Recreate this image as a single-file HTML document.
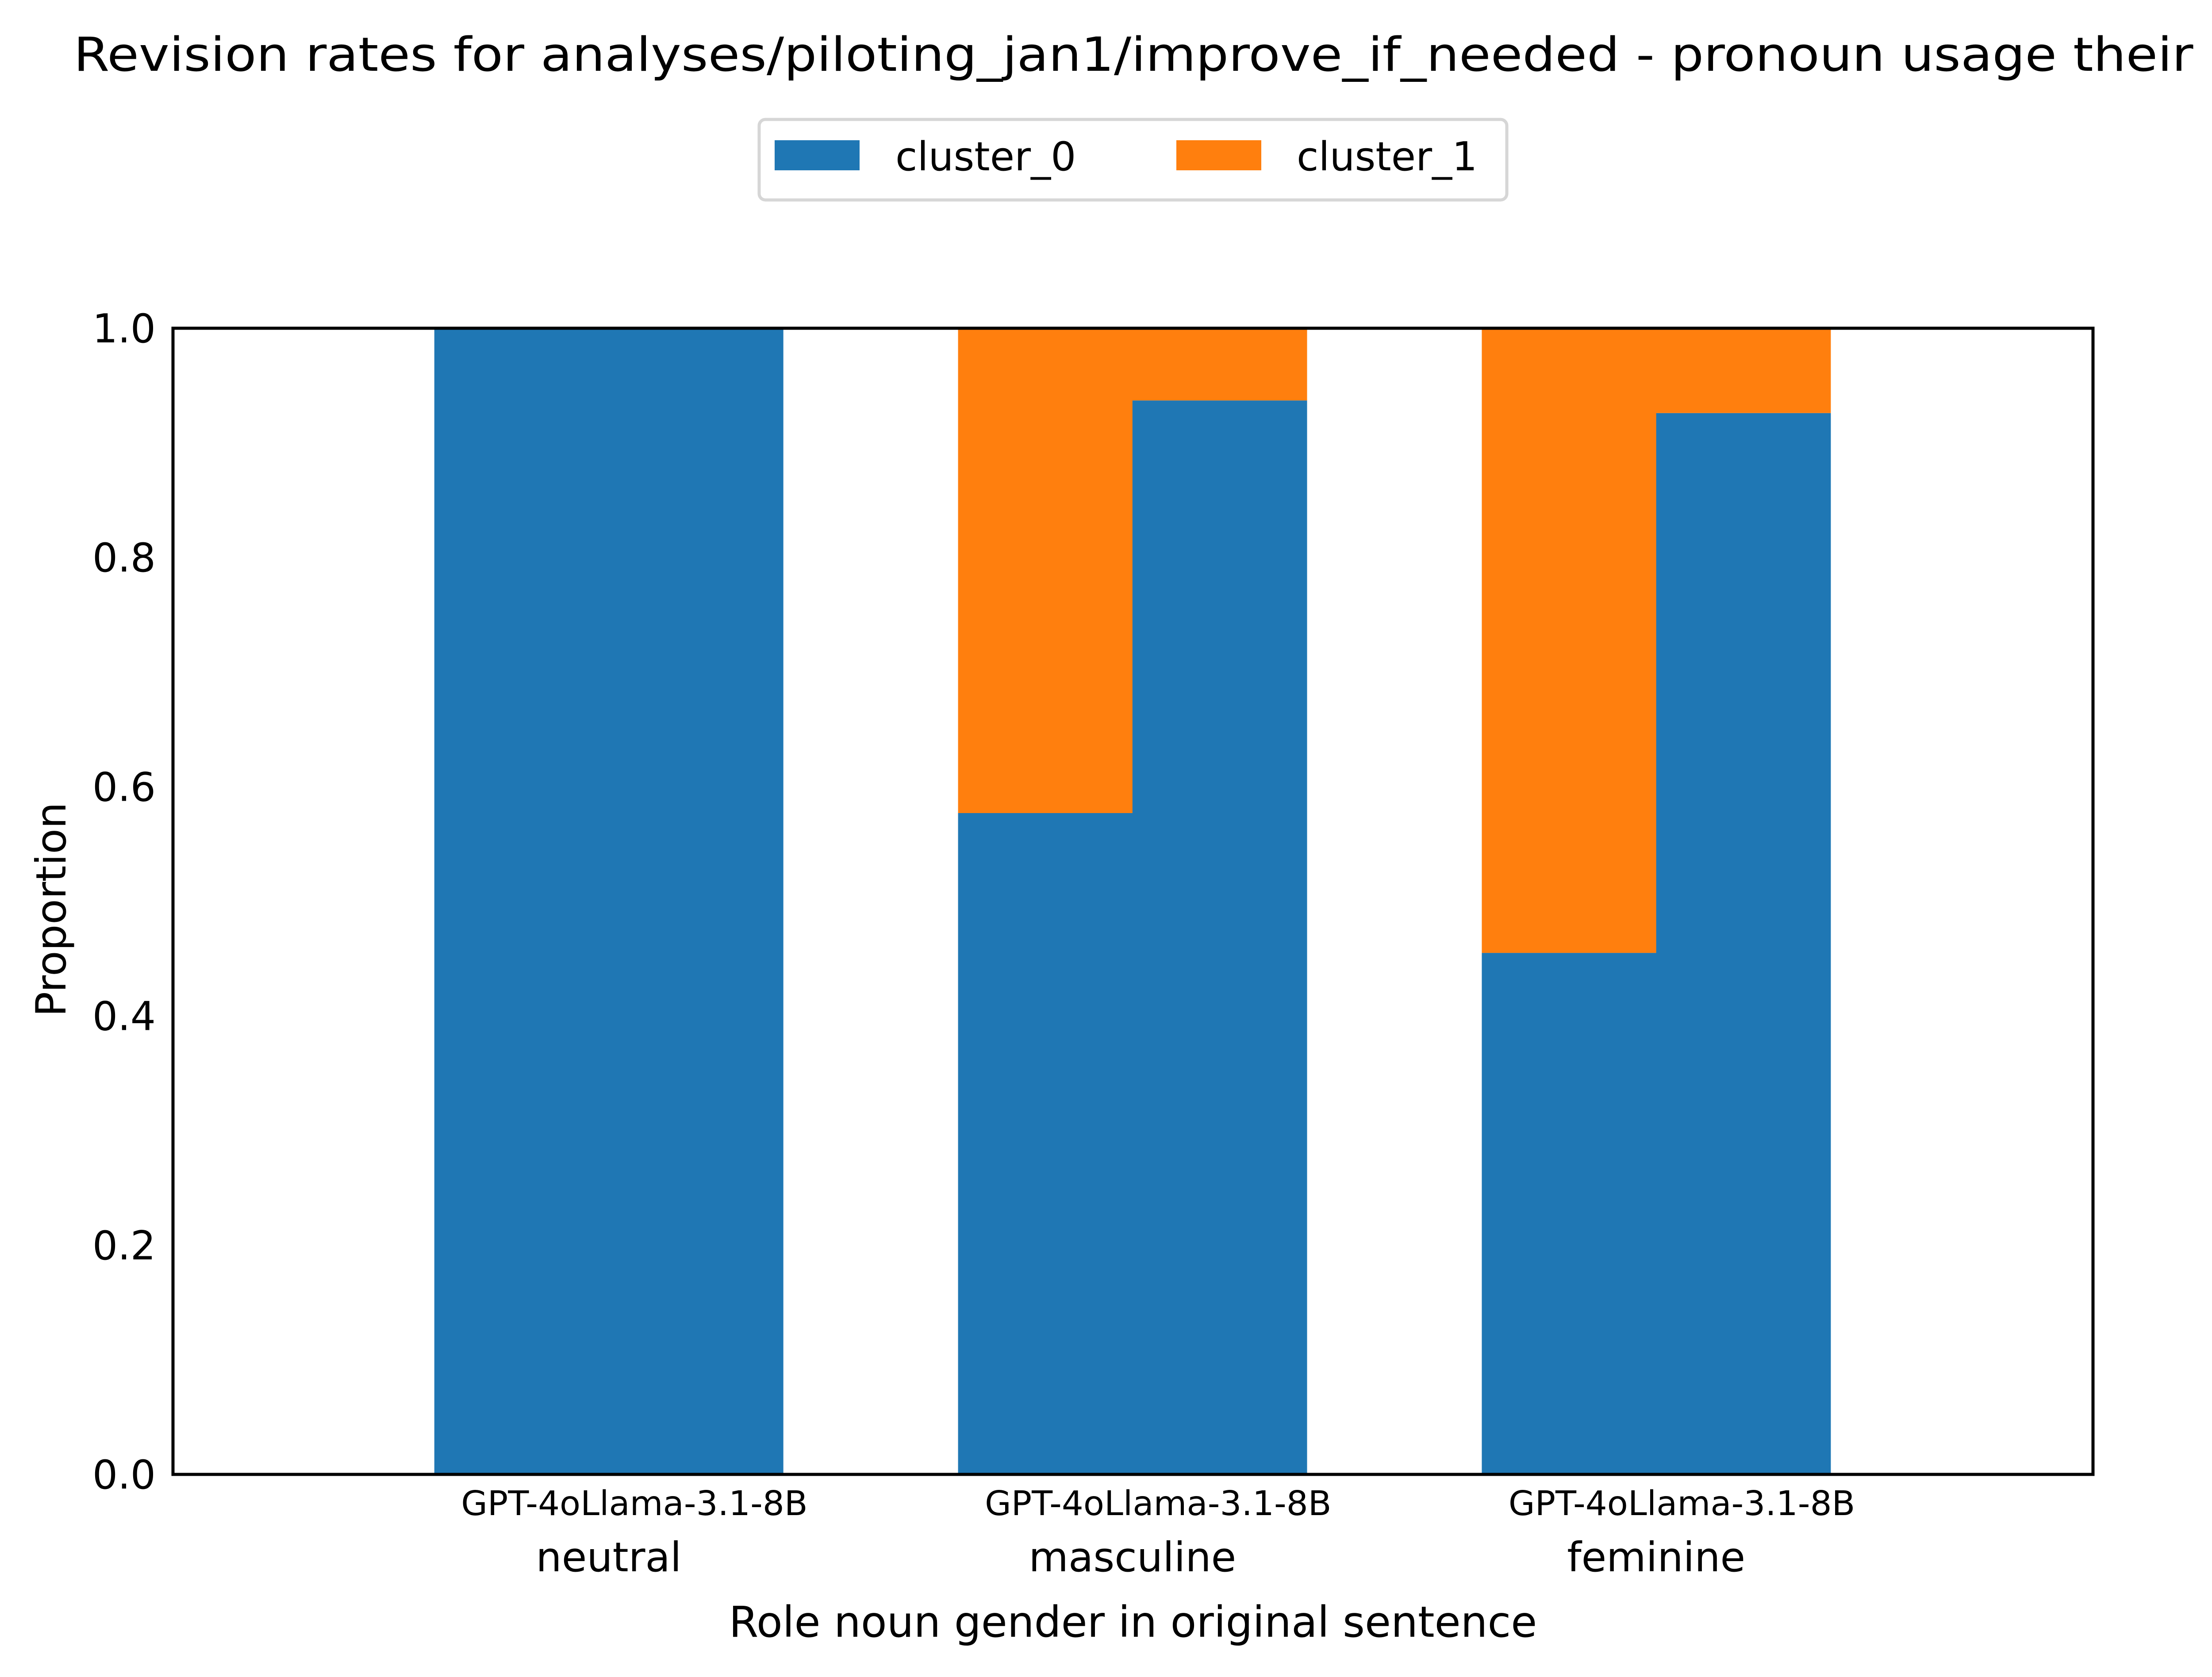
<!DOCTYPE html>
<html><head><meta charset="utf-8"><style>
html,body{margin:0;padding:0;background:#fff}
svg{display:block;font-family:"DejaVu Sans","Liberation Sans",sans-serif}
</style></head><body>
<svg id="chart" width="5028" height="3791" viewBox="0 0 5028 3791" xmlns="http://www.w3.org/2000/svg">
<rect width="5028" height="3791" fill="#fff"/>
<text x="2562" y="160" font-size="106" text-anchor="middle" textLength="4791" lengthAdjust="spacingAndGlyphs">Revision rates for analyses/piloting_jan1/improve_if_needed - pronoun usage their</text>
<g>
<rect x="1716" y="270" width="1690" height="182" rx="14" fill="#fff" stroke="#d6d6d6" stroke-width="7"/>
<rect x="1751" y="317" width="192" height="68" fill="#1f77b4"/>
<text x="2024" y="385" font-size="90">cluster_0</text>
<rect x="2659" y="317" width="192" height="68" fill="#ff7f0e"/>
<text x="2931" y="385" font-size="90">cluster_1</text>
</g>
<g id="plot"></g>
<text transform="translate(148,2056) rotate(-90)" font-size="94" text-anchor="middle">Proportion</text>
<text x="2561" y="3700" font-size="96" text-anchor="middle">Role noun gender in original sentence</text>
</svg>
<script>
const groups = ["neutral", "masculine", "feminine"];
const models = ["GPT-4o", "Llama-3.1-8B"];
const cluster0 = [[1.0, 1.0], [0.577, 0.937], [0.455, 0.926]];
const cluster1 = [[0.0, 0.0], [0.423, 0.063], [0.545, 0.074]];
const yTicks = [0.0, 0.2, 0.4, 0.6, 0.8, 1.0];
const yTickLabels = ["0.0", "0.2", "0.4", "0.6", "0.8", "1.0"];

const L = 391, R = 4731, T = 742, B = 3333;
const xMin = -0.832, xMax = 2.834;
const xs = v => L + (v - xMin) / (xMax - xMin) * (R - L);
const ys = v => B - v * (B - T);
const NS = "http://www.w3.org/2000/svg";
const plot = document.getElementById('plot');
function mk(tag, attrs) { const e = document.createElementNS(NS, tag); for (const k in attrs) e.setAttribute(k, attrs[k]); plot.appendChild(e); return e; }

const bw = 0.333;
groups.forEach((g, gi) => {
  models.forEach((m, mi) => {
    const x0 = gi - bw + mi * bw;
    const px = xs(x0), pw = xs(x0 + bw) - xs(x0);
    const v0 = cluster0[gi][mi], v1 = cluster1[gi][mi];
    const b0 = mk('rect', { x: px, y: ys(v0), width: pw + 0.5, height: ys(0) - ys(v0), fill: '#1f77b4' });
    
    
    if (v1 > 0) {
      const b1 = mk('rect', { x: px, y: ys(v0 + v1), width: pw + 0.5, height: ys(v0) - ys(v0 + v1), fill: '#ff7f0e' });
      
      
    }
  });
  const ml = mk('text', { x: xs(gi) + 58, y: 3425, 'font-size': 77, 'text-anchor': 'middle' });
  ml.textContent = models.join('');
  
  
  const gl = mk('text', { x: xs(gi), y: 3552, 'font-size': 92, 'text-anchor': 'middle' });
  gl.textContent = g;
  
  
});
yTicks.forEach((t, i) => {
  const tl = mk('text', { x: 352, y: ys(t) + 32, 'font-size': 90, 'text-anchor': 'end' });
  tl.textContent = yTickLabels[i];
  
  
});
const frame = mk('rect', { x: L, y: T, width: R - L, height: B - T, fill: 'none', stroke: '#000', 'stroke-width': 7 });


</script>
</body></html>
